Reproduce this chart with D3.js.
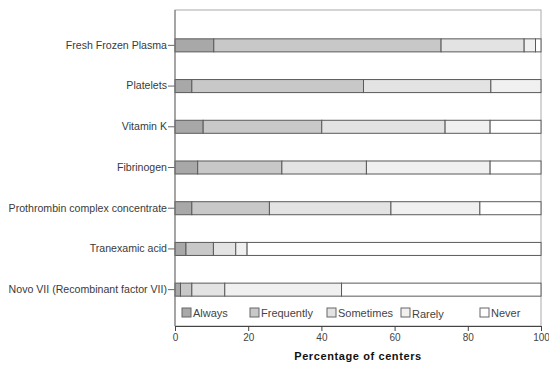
<!DOCTYPE html>
<html><head><meta charset="utf-8">
<script src="https://cdn.jsdelivr.net/npm/d3@7"></script>
<style>body{margin:0;background:#fff}svg{display:block}text{font-family:"Liberation Sans",Arial,sans-serif}</style>
</head><body><svg id="c" width="549" height="365"></svg>
<script>
const categories = ["Fresh Frozen Plasma","Platelets","Vitamin K","Fibrinogen","Prothrombin complex concentrate","Tranexamic acid","Novo VII (Recombinant factor VII)"];
const seriesNames = ["Always","Frequently","Sometimes","Rarely","Never"];
const always     = [10.6, 4.6, 7.7, 6.2, 4.6, 3.0, 1.5];
const frequently = [62.1, 46.9, 32.4, 23.0, 21.2, 7.5, 3.1];
const sometimes  = [22.7, 34.8, 33.7, 23.1, 33.2, 6.1, 9.0];
const rarely     = [3.1, 13.7, 12.3, 33.8, 24.3, 3.1, 31.9];
const never      = [1.5, 0.0, 13.9, 13.9, 16.7, 80.3, 54.5];
const xTicks = [0,20,40,60,80,100];
const colors = ["#a8a8a8","#c8c8c8","#e3e3e3","#f0f0f0","#ffffff"];

const svg = d3.select("#c");
const L=175, R=541, T=10, B=326;
const x = d3.scaleLinear().domain([0,100]).range([L,R]);
const y = d3.scaleBand().domain(categories).range([25,310]).paddingInner(0.68).paddingOuter(0.34);

const rows = categories.map((c,i)=>({cat:c, Always:always[i], Frequently:frequently[i], Sometimes:sometimes[i], Rarely:rarely[i], Never:never[i]}));
const stacked = d3.stack().keys(seriesNames)(rows);

// frame
svg.append("rect").attr("x",L).attr("y",T).attr("width",R-L).attr("height",B-T).attr("fill","none").attr("stroke","#aaa");

stacked.forEach((s,k)=>{
  svg.append("g").selectAll("rect").data(s).join("rect")
    .attr("x",d=>x(d[0])).attr("width",d=>Math.max(0,x(d[1])-x(d[0])))
    .attr("y",d=>y(d.data.cat)).attr("height",y.bandwidth())
    .attr("fill",colors[k]).attr("stroke","#5a5a5a").attr("stroke-width",1);
});

// y axis
const ya = svg.append("g").attr("transform",`translate(${L},0)`).call(d3.axisLeft(y).tickSize(7).tickSizeOuter(0).tickPadding(1));
ya.select(".domain").remove();
svg.append("line").attr("x1",L).attr("x2",L).attr("y1",T).attr("y2",B).attr("stroke","#777");
ya.selectAll(".tick line").attr("stroke","#666");
ya.selectAll("text").attr("font-size","10.6px").attr("fill","#3a3a3a").attr("font-family","'Liberation Sans',Arial,sans-serif");

// x axis
const xa = svg.append("g").attr("transform",`translate(0,${B})`).call(d3.axisBottom(x).tickValues(xTicks).tickSize(5).tickSizeOuter(0).tickPadding(3));
xa.select(".domain").attr("stroke","#444");
xa.selectAll(".tick line").attr("stroke","#444");
xa.selectAll("text").attr("font-size","10px").attr("fill","#444").attr("font-family","'Liberation Sans',Arial,sans-serif");

svg.append("text").attr("x",358).attr("y",360).attr("text-anchor","middle")
  .attr("font-size","11px").attr("font-weight","bold").attr("letter-spacing","0.6px").attr("fill","#111").text("Percentage of centers");

// legend
const legX = [182,250,327,401,480];
const lg = svg.append("g");
seriesNames.forEach((n,i)=>{
  lg.append("rect").attr("x",legX[i]).attr("y",308).attr("width",9).attr("height",9)
    .attr("fill",colors[i]).attr("stroke","#666");
  lg.append("text").attr("x",legX[i]+11).attr("y",n==="Rarely"?318:317).attr("font-size","11px").attr("fill","#444").text(n);
});
</script></body></html>
